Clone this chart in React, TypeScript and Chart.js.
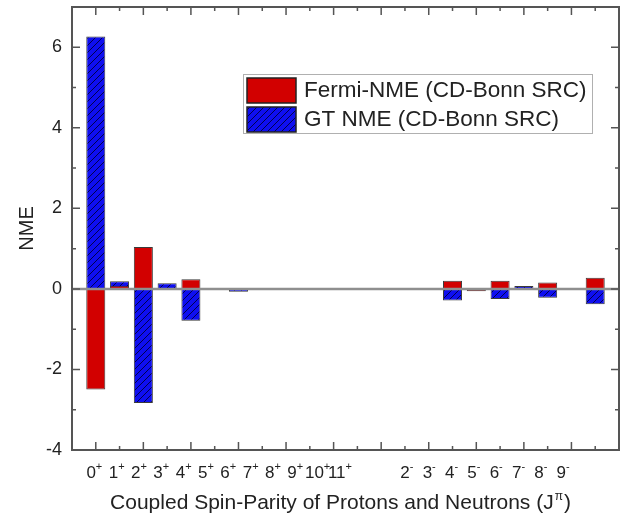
import React, { useEffect, useRef } from "react";
import { Chart, registerables } from "chart.js";

Chart.register(...registerables);

// Coupled J^pi slots along the x axis ("" = slot left empty)
const spinParities = [
  "0+", "1+", "2+", "3+", "4+", "5+", "6+", "7+", "8+", "9+", "10+", "11+",
  "", "",
  "2-", "3-", "4-", "5-", "6-", "7-", "8-", "9-",
];

// Fermi NME per coupled J^pi (CD-Bonn SRC)
const fermiNME: (number | null)[] = [
  -2.5, 0.08, 1.04, 0.0, 0.24, 0.0, 0.0, 0.0, 0.0, 0.0, 0.0, -0.01,
  null, null,
  -0.02, 0.2, -0.06, 0.2, 0.0, 0.16, -0.02, 0.28,
];

// Gamow-Teller NME per coupled J^pi (CD-Bonn SRC)
const gtNME: (number | null)[] = [
  6.27, 0.19, -2.83, 0.14, -0.79, 0.0, -0.07, 0.0, 0.0, 0.0, 0.0, -0.02,
  null, null,
  -0.03, -0.29, -0.01, -0.25, 0.07, -0.22, -0.03, -0.38,
];

const yTicks = [-4, -2, 0, 2, 4, 6];

const seriesNames = ["Fermi-NME (CD-Bonn SRC)", "GT NME (CD-Bonn SRC)"];

const RED = "rgb(210,0,0)";
const BLUE = "rgb(15,15,240)";
const AXIS = "#555555";
const FONT = "'Liberation Sans', Arial, sans-serif";

function makeHatch(): CanvasPattern | string {
  const c = document.createElement("canvas");
  const s = 7;
  c.width = s;
  c.height = s;
  const g = c.getContext("2d");
  if (!g) return BLUE;
  g.fillStyle = BLUE;
  g.fillRect(0, 0, s, s);
  g.strokeStyle = "rgb(0,0,80)";
  g.lineWidth = 1;
  g.beginPath();
  g.moveTo(-1, s + 1);
  g.lineTo(s + 1, -1);
  g.moveTo(-1, 1);
  g.lineTo(1, -1);
  g.moveTo(s - 1, s + 1);
  g.lineTo(s + 1, s - 1);
  g.stroke();
  const p = g.createPattern(c, "repeat");
  return p || BLUE;
}

const decorPlugin = {
  id: "decor",
  afterDatasetsDraw(chart: any) {
    const { ctx, chartArea, scales } = chart;
    const y0 = scales.y.getPixelForValue(0);
    ctx.save();
    ctx.strokeStyle = "#8f8f8f";
    ctx.lineWidth = 2.5;
    ctx.beginPath();
    ctx.moveTo(chartArea.left, y0);
    ctx.lineTo(chartArea.right, y0);
    ctx.stroke();
    ctx.restore();
  },
  afterDraw(chart: any) {
    const { ctx, chartArea, scales } = chart;
    const { left, right, top, bottom } = chartArea;
    const x = scales.x;
    const y = scales.y;
    const xl = scales.xLabel;
    ctx.save();

    // frame
    ctx.strokeStyle = AXIS;
    ctx.lineWidth = 2;
    ctx.strokeRect(left, top, right - left, bottom - top);

    // inward ticks
    ctx.lineWidth = 1.5;
    ctx.beginPath();
    for (let v = 0; v <= 21; v++) {
      const px = x.getPixelForValue(v);
      const len = v % 2 === 0 ? 8 : 4;
      ctx.moveTo(px, bottom);
      ctx.lineTo(px, bottom - len);
      ctx.moveTo(px, top);
      ctx.lineTo(px, top + len);
    }
    for (let v = -4; v <= 7; v++) {
      const py = y.getPixelForValue(v);
      const len = v % 2 === 0 ? 8 : 4;
      ctx.moveTo(left, py);
      ctx.lineTo(left + len, py);
      ctx.moveTo(right, py);
      ctx.lineTo(right - len, py);
    }
    ctx.stroke();

    // x tick labels with superscript parity
    ctx.fillStyle = "#222";
    ctx.textBaseline = "alphabetic";
    ctx.textAlign = "left";
    const baseFont = `17px ${FONT}`;
    const supFont = `11px ${FONT}`;
    spinParities.forEach((lab, i) => {
      if (!lab) return;
      const j = lab.slice(0, -1);
      const p = lab.slice(-1);
      ctx.font = baseFont;
      const wj = ctx.measureText(j).width;
      ctx.font = supFont;
      const wp = ctx.measureText(p).width;
      const cx = xl.getPixelForValue(i);
      const x0 = cx - (wj + wp) / 2;
      ctx.font = baseFont;
      ctx.fillText(j, x0, bottom + 28);
      ctx.font = supFont;
      ctx.fillText(p, x0 + wj, bottom + 20);
    });

    // x title with superscript pi
    const tMain = "Coupled Spin-Parity of Protons and Neutrons (J";
    const tSup = "\u03c0";
    const tEnd = ")";
    const tFont = `21px ${FONT}`;
    const tSupFont = `12px ${FONT}`;
    ctx.font = tFont;
    const w1 = ctx.measureText(tMain).width;
    const w3 = ctx.measureText(tEnd).width;
    ctx.font = tSupFont;
    const w2 = ctx.measureText(tSup).width;
    const tcx = (left + right) / 2 - 6;
    let tx = tcx - (w1 + w2 + w3) / 2;
    const tb = bottom + 59;
    ctx.fillStyle = "#222";
    ctx.font = tFont;
    ctx.fillText(tMain, tx, tb);
    tx += w1;
    ctx.font = tSupFont;
    ctx.fillText(tSup, tx + 1, tb - 9);
    tx += w2 + 2;
    ctx.font = tFont;
    ctx.fillText(tEnd, tx, tb);

    // legend
    const lx = right - 376;
    const ly = top + 67;
    const lw = 349;
    const lh = 59;
    ctx.fillStyle = "#fff";
    ctx.fillRect(lx, ly, lw, lh);
    ctx.strokeStyle = "#b0b0b0";
    ctx.lineWidth = 1;
    ctx.strokeRect(lx + 0.5, ly + 0.5, lw, lh);
    const fills = chart.data.datasets.map((d: any) => d.backgroundColor);
    const rows = [ly + 4, ly + 33];
    ctx.font = `22.5px ${FONT}`;
    ctx.textBaseline = "middle";
    rows.forEach((ry, k) => {
      ctx.fillStyle = fills[k];
      ctx.fillRect(lx + 4, ry, 49, 25);
      ctx.strokeStyle = "#222";
      ctx.lineWidth = 1.5;
      ctx.strokeRect(lx + 4, ry, 49, 25);
      ctx.fillStyle = "#222";
      ctx.fillText(seriesNames[k], lx + 61, ry + 13);
    });

    ctx.restore();
  },
};

export default function App() {
  const ref = useRef<HTMLCanvasElement | null>(null);

  useEffect(() => {
    if (!ref.current) return;
    const hatch = makeHatch();
    const toPoints = (vals: (number | null)[]) =>
      vals.map((v, i) => ({ x: i, y: v }));
    const chart = new Chart(ref.current, {
      type: "bar",
      data: {
        datasets: [
          {
            label: seriesNames[0],
            data: toPoints(fermiNME) as any,
            backgroundColor: RED,
            borderColor: "#3a3a3a",
            borderWidth: 1,
            borderSkipped: false,
            grouped: false,
            categoryPercentage: 1,
            barPercentage: 0.8,
          },
          {
            label: seriesNames[1],
            data: toPoints(gtNME) as any,
            backgroundColor: hatch as any,
            borderColor: "#3a3a3a",
            borderWidth: 1,
            borderSkipped: false,
            grouped: false,
            categoryPercentage: 1,
            barPercentage: 0.8,
          },
        ],
      },
      options: {
        animation: false,
        responsive: false,
        maintainAspectRatio: false,
        layout: { padding: { left: 0, top: 7, right: 12, bottom: 66 } },
        plugins: {
          legend: { display: false },
          tooltip: { enabled: false },
        },
        scales: {
          x: {
            type: "linear",
            min: -1,
            max: 22,
            offset: false,
            display: false,
          },
          xLabel: {
            type: "linear",
            axis: "x",
            position: "bottom",
            min: -1,
            max: 23.5,
            offset: false,
            display: false,
          },
          y: {
            type: "linear",
            min: -4,
            max: 7,
            afterBuildTicks: (scale: any) => {
              scale.ticks = yTicks.map((v) => ({ value: v }));
            },
            afterFit: (scale: any) => {
              scale.width = 72;
              scale.paddingTop = 0;
              scale.paddingBottom = 0;
            },
            grid: { display: false, drawTicks: false },
            border: { display: false },
            ticks: {
              padding: 10,
              color: "#222",
              font: { family: FONT, size: 18 },
            },
            title: {
              display: true,
              text: "NME",
              color: "#222",
              font: { family: FONT, size: 20 },
              padding: { top: 15, bottom: 0 },
            },
          },
        } as any,
      },
      plugins: [decorPlugin],
    });
    return () => chart.destroy();
  }, []);

  return (
    <div
      style={{
        position: "fixed",
        left: 0,
        top: 0,
        width: 631,
        height: 516,
        background: "#fff",
      }}
    >
      <canvas ref={ref} width={631} height={516} />
    </div>
  );
}
